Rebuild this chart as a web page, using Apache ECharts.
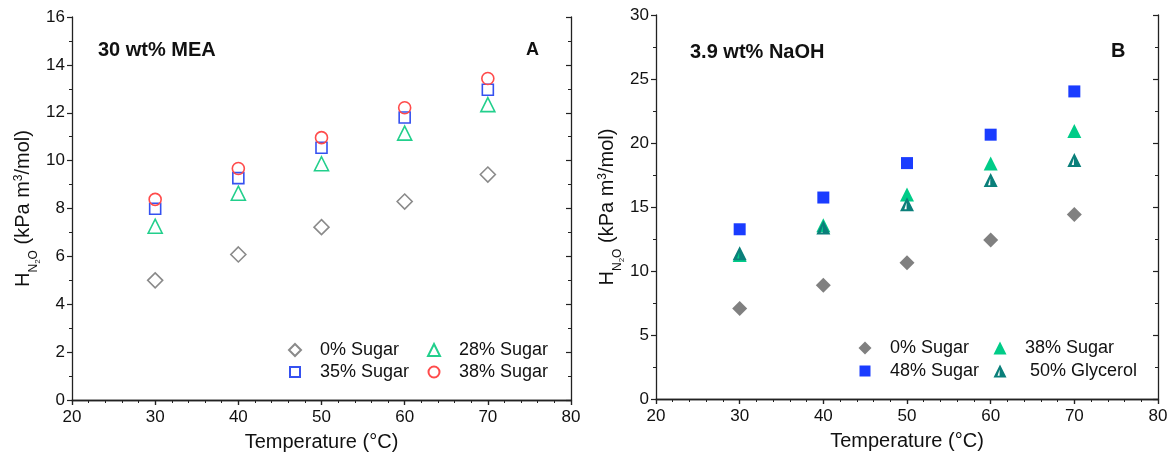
<!DOCTYPE html>
<html>
<head>
<meta charset="utf-8">
<script src="https://cdn.jsdelivr.net/npm/echarts@6/dist/echarts.min.js"></script>
<style>
html,body{margin:0;padding:0;background:#fff;}
#chart{width:1171px;height:457px;}
</style>
</head>
<body>
<div id="chart"></div>
<script>
// ---- data ----
const temps = [30, 40, 50, 60, 70];
const xTicks = [20, 30, 40, 50, 60, 70, 80];
const yTicksA = [0, 2, 4, 6, 8, 10, 12, 14, 16];
const yTicksB = [0, 5, 10, 15, 20, 25, 30];

// Panel A: 30 wt% MEA
const meaSugar0  = [5.00, 6.08, 7.22, 8.29, 9.42];
const meaSugar28 = [7.26, 8.64, 9.87, 11.15, 12.34];
const meaSugar35 = [7.99, 9.27, 10.54, 11.80, 12.96];
const meaSugar38 = [8.38, 9.67, 10.96, 12.21, 13.43];

// Panel B: 3.9 wt% NaOH
const naohSugar0     = [7.08, 8.88, 10.65, 12.43, 14.42];
const naohSugar48    = [13.26, 15.74, 18.43, 20.65, 24.03];
const naohSugar38    = [11.25, 13.58, 15.98, 18.40, 20.93];
const naohGlycerol50 = [11.38, 13.40, 15.22, 17.10, 18.67];

const pts = arr => temps.map((t, i) => [t, arr[i]]);

const font = '"Liberation Sans", Arial, sans-serif';
const axisCol = '#222';
const glyTri = 'path://M50,0 L100,100 L0,100 Z M47,38 L31,86 L47,86 Z';

function axisPair(gi, min, max, interval, minorSplit, isX) {
  const common = {
    gridIndex: gi, type: 'value', min, max, interval,
    axisLine: {show: true, lineStyle: {color: axisCol, width: 1.3}},
    splitLine: {show: false},
    minorTick: {show: true, splitNumber: minorSplit, length: 3, lineStyle: {color: axisCol, width: 1}},
  };
  const main = Object.assign({}, common, {
    position: isX ? 'bottom' : 'left',
    axisTick: {show: true, inside: false, length: 5, lineStyle: {color: axisCol, width: 1.2}},
    axisLabel: {show: true, color: '#111', fontSize: 17, fontFamily: font, margin: isX ? 9 : 7},
  });
  const sec = Object.assign({}, common, {
    position: isX ? 'top' : 'right',
    axisTick: {show: true, inside: true, length: 5, lineStyle: {color: axisCol, width: 1.2}},
    axisLabel: {show: false},
  });
  return [main, sec];
}

const [xA, xA2] = axisPair(0, 20, 80, 10, 5, true);
const [yA, yA2] = axisPair(0, 0, 16, 2, 2, false);
const [xB, xB2] = axisPair(1, 20, 80, 10, 5, true);
const [yB, yB2] = axisPair(1, 0, 30, 5, 2, false);

const xName = {
  name: 'Temperature (°C)', nameLocation: 'middle', nameGap: 32,
  nameTextStyle: {fontSize: 20, color: '#111', fontFamily: font}
};
Object.assign(xA, xName);
Object.assign(xB, xName);

const yNameRich = {
  a: {fontSize: 20, color: '#111', fontFamily: font, verticalAlign: 'bottom', lineHeight: 24},
  s: {fontSize: 12, color: '#111', fontFamily: font, verticalAlign: 'bottom', lineHeight: 24, padding: [0, 0, -6, 0]},
  ss: {fontSize: 8, color: '#111', fontFamily: font, verticalAlign: 'bottom', lineHeight: 24, padding: [0, 0, -9, 0]},
  p: {fontSize: 12, color: '#111', fontFamily: font, verticalAlign: 'bottom', lineHeight: 24, padding: [0, 0, 9, 0]}
};
const yName = {
  name: '{a|H}{s|N}{ss|2}{s|O}{a| (kPa m}{p|3}{a|/mol)}',
  nameLocation: 'middle', nameGap: 38, nameRotate: 90,
  nameTextStyle: {rich: yNameRich}
};
Object.assign(yA, yName);
Object.assign(yB, Object.assign({}, yName, {nameGap: 38}));

function sc(name, xi, yi, data, symbol, size, fill, stroke, bw) {
  return {
    name, type: 'scatter', xAxisIndex: xi, yAxisIndex: yi, data: pts(data),
    symbol, symbolSize: size,
    itemStyle: {color: fill, borderColor: stroke, borderWidth: bw, opacity: 1},
    emphasis: {disabled: true}
  };
}

const series = [
  sc('A 0% Sugar', 0, 0, meaSugar0, 'diamond', 15, 'rgba(0,0,0,0)', '#8a8a8a', 1.6),
  sc('A 28% Sugar', 0, 0, meaSugar28, 'triangle', 14, 'rgba(0,0,0,0)', '#22cf8c', 1.6),
  sc('A 35% Sugar', 0, 0, meaSugar35, 'rect', 11, 'rgba(0,0,0,0)', '#3551f0', 1.6),
  sc('A 38% Sugar', 0, 0, meaSugar38, 'circle', 12, 'rgba(0,0,0,0)', '#ff4b4b', 1.6),
  sc('B 0% Sugar', 2, 2, naohSugar0, 'diamond', 15, '#808080', '#808080', 0),
  sc('B 48% Sugar', 2, 2, naohSugar48, 'rect', 12, '#1a3cff', '#1a3cff', 0),
  sc('B 38% Sugar', 2, 2, naohSugar38, 'triangle', 14, '#00cc88', '#00cc88', 0),
  sc('B 50% Glycerol', 2, 2, naohGlycerol50, glyTri, 14, '#0a7f7a', '#0a7f7a', 0)
];

// legend: icon centre (cx, cy), text start tx
function leg(name, cx, cy, tx, size) {
  return {
    data: [name], left: cx - size / 2, top: cy - 10, orient: 'horizontal', padding: 0,
    itemWidth: size, itemHeight: size, selectedMode: false,
    formatter: n => n.replace(/^[AB] /, ''),
    textStyle: {fontSize: 18, lineHeight: 20, color: '#111', fontFamily: font,
                padding: [0, 0, 0, tx - (cx + size / 2) - 5]}
  };
}

const legends = [
  leg('A 0% Sugar', 294, 350, 319, 12),
  leg('A 28% Sugar', 433, 350, 458, 12),
  leg('A 35% Sugar', 294, 372, 319, 10),
  leg('A 38% Sugar', 433, 372, 458, 11),
  leg('B 0% Sugar', 865, 348, 890, 13),
  leg('B 38% Sugar', 1000, 348, 1025, 13),
  leg('B 48% Sugar', 865, 371, 890, 11),
  leg('B 50% Glycerol', 1000, 371, 1030, 13)
];

function label(text, x, y, size) {
  return {
    type: 'text', x, y, silent: true,
    style: {text, font: 'bold ' + size + 'px ' + font, fill: '#111', verticalAlign: 'middle', align: 'left'}
  };
}

const option = {
  animation: false,
  backgroundColor: '#fff',
  grid: [
    {left: 72, top: 17, width: 499, height: 384},
    {left: 656, top: 15, width: 502, height: 384}
  ],
  xAxis: [xA, xA2, xB, xB2],
  yAxis: [yA, yA2, yB, yB2],
  legend: legends,
  series,
  graphic: [
    label('30 wt% MEA', 98, 50, 20),
    label('A', 526, 50, 18),
    label('3.9 wt% NaOH', 690, 52, 20),
    label('B', 1111, 51, 20)
  ]
};

const chart = echarts.init(document.getElementById('chart'), null, {renderer: 'canvas'});
chart.setOption(option);
</script>
</body>
</html>
